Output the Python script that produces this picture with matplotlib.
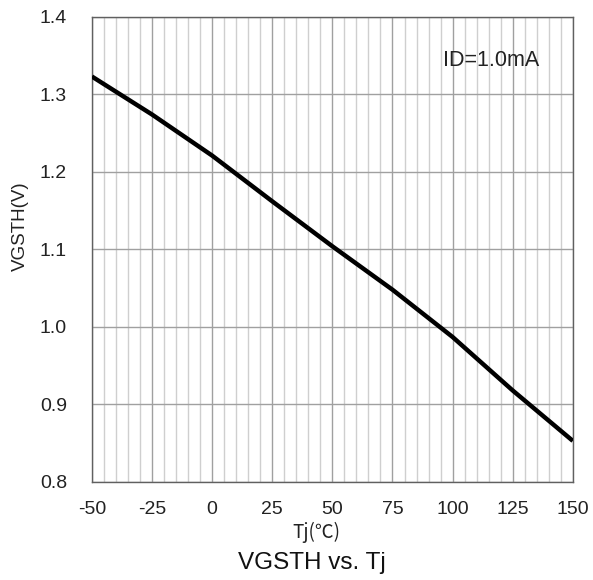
import numpy as np
import matplotlib.pyplot as plt
from matplotlib.ticker import MultipleLocator

plt.rcParams['font.family'] = ['Liberation Sans', 'Noto Sans CJK SC', 'DejaVu Sans']
plt.rcParams['axes.unicode_minus'] = False

# Data
tj = [-50, -25, 0, 25, 50, 75, 100, 125, 150]
vgsth = [1.323, 1.274, 1.221, 1.162, 1.104, 1.048, 0.987, 0.918, 0.853]

x_ticks = [-50, -25, 0, 25, 50, 75, 100, 125, 150]
y_ticks = [0.8, 0.9, 1.0, 1.1, 1.2, 1.3, 1.4]

fig = plt.figure(figsize=(5.93, 5.80), dpi=100)
ax = fig.add_axes([0.155, 0.169, 0.811, 0.802])

ax.plot(tj, vgsth, color='black', lw=3.2, solid_capstyle='butt', zorder=3)

ax.set_xlim(-50, 150)
ax.set_ylim(0.8, 1.4)
ax.set_xticks(x_ticks)
ax.set_yticks(y_ticks)
ax.set_yticklabels([f'{v:.1f}' for v in y_ticks])
ax.xaxis.set_minor_locator(MultipleLocator(5))

ax.grid(which='major', axis='both', color='#a0a0a0', lw=1.0)
ax.grid(which='minor', axis='x', color='#cfcfcf', lw=1.0)
ax.tick_params(which='both', length=0)
ax.tick_params(axis='y', pad=18, labelsize=14, colors='#222222')
ax.tick_params(axis='x', pad=14, labelsize=14, colors='#222222')
for s in ax.spines.values():
    s.set_color('#606060')
    s.set_linewidth(1.0)

ax.text(96, 1.344, 'ID=1.0mA', fontsize=15.5, ha='left', va='center', color='#222222')

ax.set_ylabel('VGSTH(V)', fontsize=13.5, color='#222222', va='center')
ax.yaxis.set_label_coords(-0.148, 0.55)
ax.text(0.466, -0.108, 'Tj(℃)', transform=ax.transAxes, fontsize=13.5,
        family=['Noto Sans CJK SC'], ha='center', va='center', color='#222222')
fig.text(0.526, 0.029, 'VGSTH vs. Tj', fontsize=17.5, ha='center', va='center', color='#111111')

fig.savefig('out.png', dpi=100)
